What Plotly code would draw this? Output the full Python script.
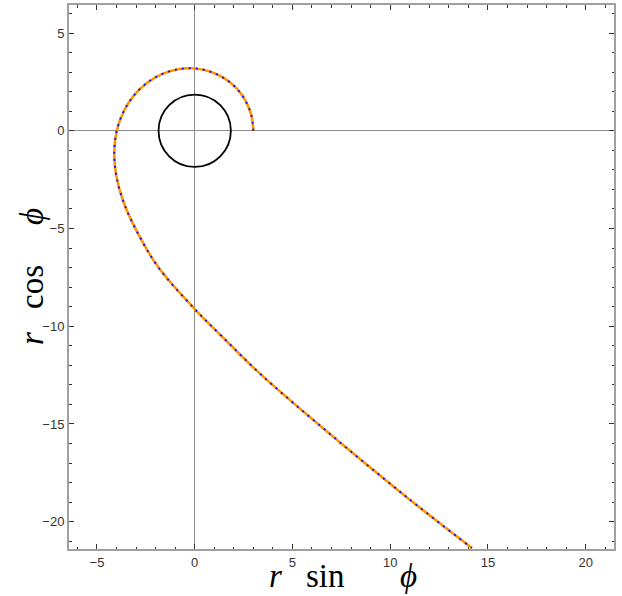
import numpy as np
import plotly.graph_objects as go

# Trajectory sampled in polar form: angle phi (degrees) and radius r
phi_deg = [90, 75, 60, 45, 30, 15, 0, -15, -30, -45, -60, -75, -90, -105,
           -120, -135, -150, -165, -180, -187.5, -195, -202.5, -210, -213.6]
r_vals = [3.00, 3.005, 3.02, 3.05, 3.08, 3.13, 3.19, 3.26, 3.35, 3.46, 3.60,
          3.77, 3.99, 4.26, 4.63, 5.15, 5.93, 7.22, 9.12, 10.60, 12.85, 16.10,
          21.60, 25.63]

# Central circle radius
circle_r = 1.85

# Axis extents and ticks
x_range = [-6.38, 21.40]
y_range = [-21.37, 6.41]
x_ticks = [-5, 0, 5, 10, 15, 20]
y_ticks = [-20, -15, -10, -5, 0, 5]

# Axis titles, typeset as separate pieces (pixel offsets from the plot centre)
x_title_parts = ["<i>r</i>", "sin", "<i>ϕ</i>"]
x_title_offsets = [-66, -16, 67]
y_title_parts = ["<i>r</i>", "cos", "<i>ϕ</i>"]
y_title_offsets = [-62, -10, 60]

phi = np.radians(phi_deg)
r = np.array(r_vals)
traj_x = r * np.sin(phi)
traj_y = r * np.cos(phi)

fig = go.Figure()

fig.add_trace(go.Scatter(
    x=traj_x, y=traj_y, mode="lines",
    line=dict(color="rgb(255,150,0)", width=2.6, shape="spline", smoothing=1.0),
    hoverinfo="skip", showlegend=False,
))
fig.add_trace(go.Scatter(
    x=traj_x, y=traj_y, mode="lines",
    line=dict(color="rgb(20,20,255)", width=2, shape="spline", smoothing=1.0,
              dash="2px,5px"),
    hoverinfo="skip", showlegend=False,
))

fig.add_shape(type="circle", xref="x", yref="y",
              x0=-circle_r, y0=-circle_r, x1=circle_r, y1=circle_r,
              line=dict(color="black", width=1.8))

axis_common = dict(
    showgrid=False,
    zeroline=True, zerolinecolor="#8c8c8c", zerolinewidth=1.2,
    showline=True, linecolor="#a0a0a0", linewidth=2, mirror="allticks",
    ticks="inside", ticklen=5, tickwidth=1, tickcolor="#333333",
    minor=dict(ticks="inside", ticklen=2.5, dtick=1, tickcolor="#333333", tickwidth=1),
    tickfont=dict(family="Liberation Sans, Arial, sans-serif", size=13, color="#333333"),
    layer="below traces",
)

fig.update_xaxes(range=x_range, tickmode="array", tickvals=x_ticks, **axis_common)
fig.update_yaxes(range=y_range, tickmode="array", tickvals=y_ticks,
                 scaleanchor="x", scaleratio=1, **axis_common)

title_font = dict(family="Liberation Serif, Times New Roman, serif", size=33, color="black")
for part, dx in zip(x_title_parts, x_title_offsets):
    fig.add_annotation(
        text=part, xref="paper", yref="paper",
        x=0.5, y=0, xanchor="center", yanchor="middle",
        xshift=dx, yshift=-27, showarrow=False, font=title_font,
    )
for part, dy in zip(y_title_parts, y_title_offsets):
    fig.add_annotation(
        text=part, xref="paper", yref="paper",
        x=0, y=0.5, xanchor="center", yanchor="middle",
        xshift=-37, yshift=dy, textangle=-90, showarrow=False, font=title_font,
    )

fig.update_layout(
    width=622, height=596,
    margin=dict(l=69, r=8, t=3, b=47),
    plot_bgcolor="white", paper_bgcolor="white",
)

fig.write_html("out.html")
